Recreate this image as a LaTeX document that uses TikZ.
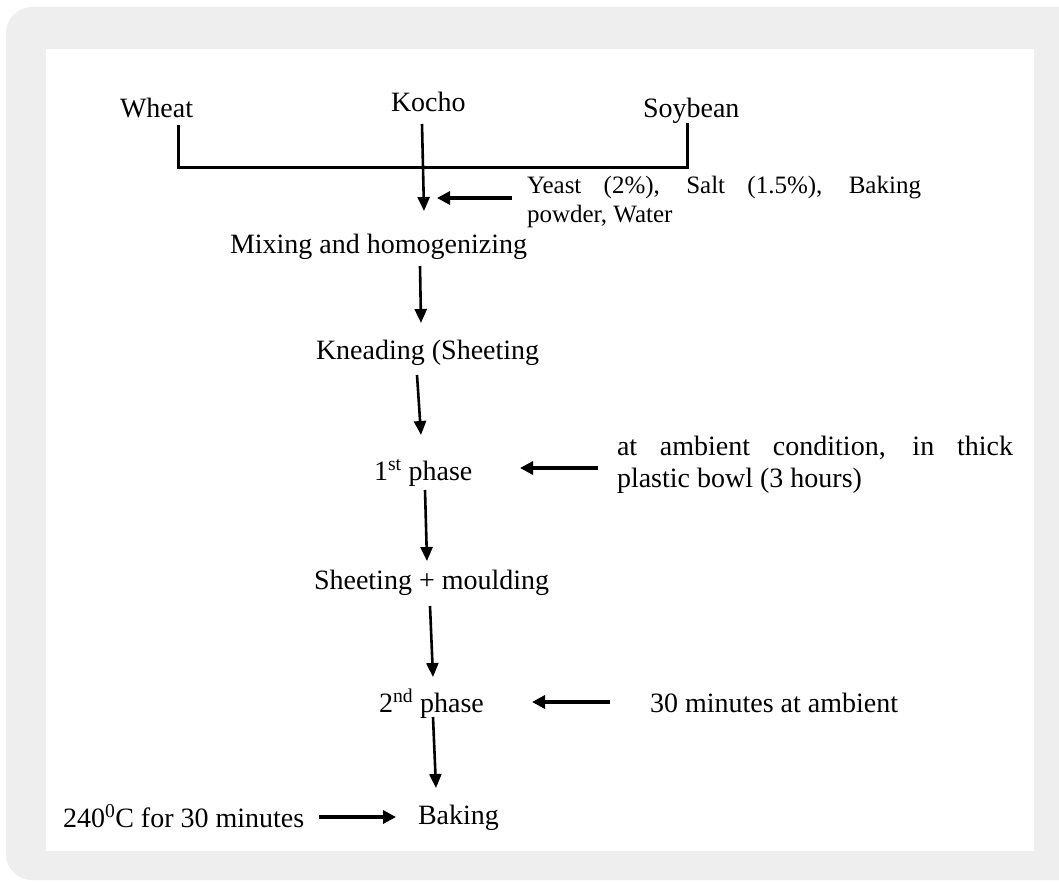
\documentclass[tikz,border=0pt]{standalone}
\usepackage{fontspec}
\setmainfont{Liberation Serif}
\usetikzlibrary{arrows.meta}
\definecolor{bg}{HTML}{EEEEEE}
\begin{document}
\begin{tikzpicture}[x=1pt,y=-1pt,
  lbl/.style={anchor=base west,inner sep=0pt,outer sep=0pt,font=\fontsize{28}{32}\selectfont},
  vline/.style={line width=2.6pt,-{Triangle[length=14pt,width=12pt]}},
  hline/.style={line width=4pt,-{Triangle[length=13pt,width=13pt]}},
  brk/.style={line width=3pt}]
\useasboundingbox (0,0) rectangle (1059,883);
\fill[white] (0,0) rectangle (1059,883);
\begin{scope}
\clip (0,0) rectangle (1059,883);
\fill[bg,rounded corners=26pt] (6,7) rectangle (1100,880);
\end{scope}
\fill[white] (46,49) rectangle (1034,851);

% text nodes
\node[lbl] (wheat) at (120,117) {Wheat};
\node[lbl] (kocho) at (391,111) {Kocho};
\node[lbl] (soy) at (643,117) {Soybean};
\node[lbl,font=\fontsize{25}{29}\selectfont] (yeast) at (527,193)
  {\parbox[t]{394pt}{\makebox[394pt][s]{Yeast (2\%), Salt (1.5\%), Baking}\\powder, Water}};
\node[lbl] (mix) at (230,253) {Mixing and homogenizing};
\node[lbl] (knead) at (316,359) {Kneading (Sheeting};
\node[lbl] (p1) at (374,480) {1\textsuperscript{st} phase};
\node[lbl] (amb) at (617,455)
  {\parbox[t]{396pt}{\makebox[396pt][s]{at ambient condition, in thick}\\plastic bowl (3 hours)}};
\node[lbl] (sheet) at (314,589) {Sheeting + moulding};
\node[lbl] (p2) at (379,712) {2\textsuperscript{nd} phase};
\node[lbl] (thirty) at (650,712) {30 minutes at ambient};
\node[lbl] (bake) at (418,824) {Baking};
\node[lbl] (temp) at (63,827) {240\textsuperscript{0}C for 30 minutes};

% connector end points
\coordinate (wb) at (178,125);
\coordinate (wc) at (178,167);
\coordinate (sc) at (687,167);
\coordinate (sb) at (687,123);
\coordinate (k1) at (422,124);
\coordinate (k2) at (424,211);
\coordinate (y1) at (512,198);
\coordinate (y2) at (437,198);
\coordinate (m1) at (420,266);
\coordinate (m2) at (421,323);
\coordinate (n1) at (417,375);
\coordinate (n2) at (421,435);
\coordinate (a1) at (598,468);
\coordinate (a2) at (520,468);
\coordinate (f1) at (425,490);
\coordinate (f2) at (427,561);
\coordinate (s1) at (430,606);
\coordinate (s2) at (433,677);
\coordinate (t1) at (610,702);
\coordinate (t2) at (532,702);
\coordinate (q1) at (433,717);
\coordinate (q2) at (436,788);
\coordinate (c1) at (319,817);
\coordinate (c2) at (396,817);

% connectors
\draw[brk] (wb) -- (wc) -- (sc) -- (sb);
\draw[vline] (k1) -- (k2);
\draw[hline] (y1) -- (y2);
\draw[vline] (m1) -- (m2);
\draw[vline] (n1) -- (n2);
\draw[hline] (a1) -- (a2);
\draw[vline] (f1) -- (f2);
\draw[vline] (s1) -- (s2);
\draw[hline] (t1) -- (t2);
\draw[vline] (q1) -- (q2);
\draw[hline] (c1) -- (c2);
\end{tikzpicture}
\end{document}
